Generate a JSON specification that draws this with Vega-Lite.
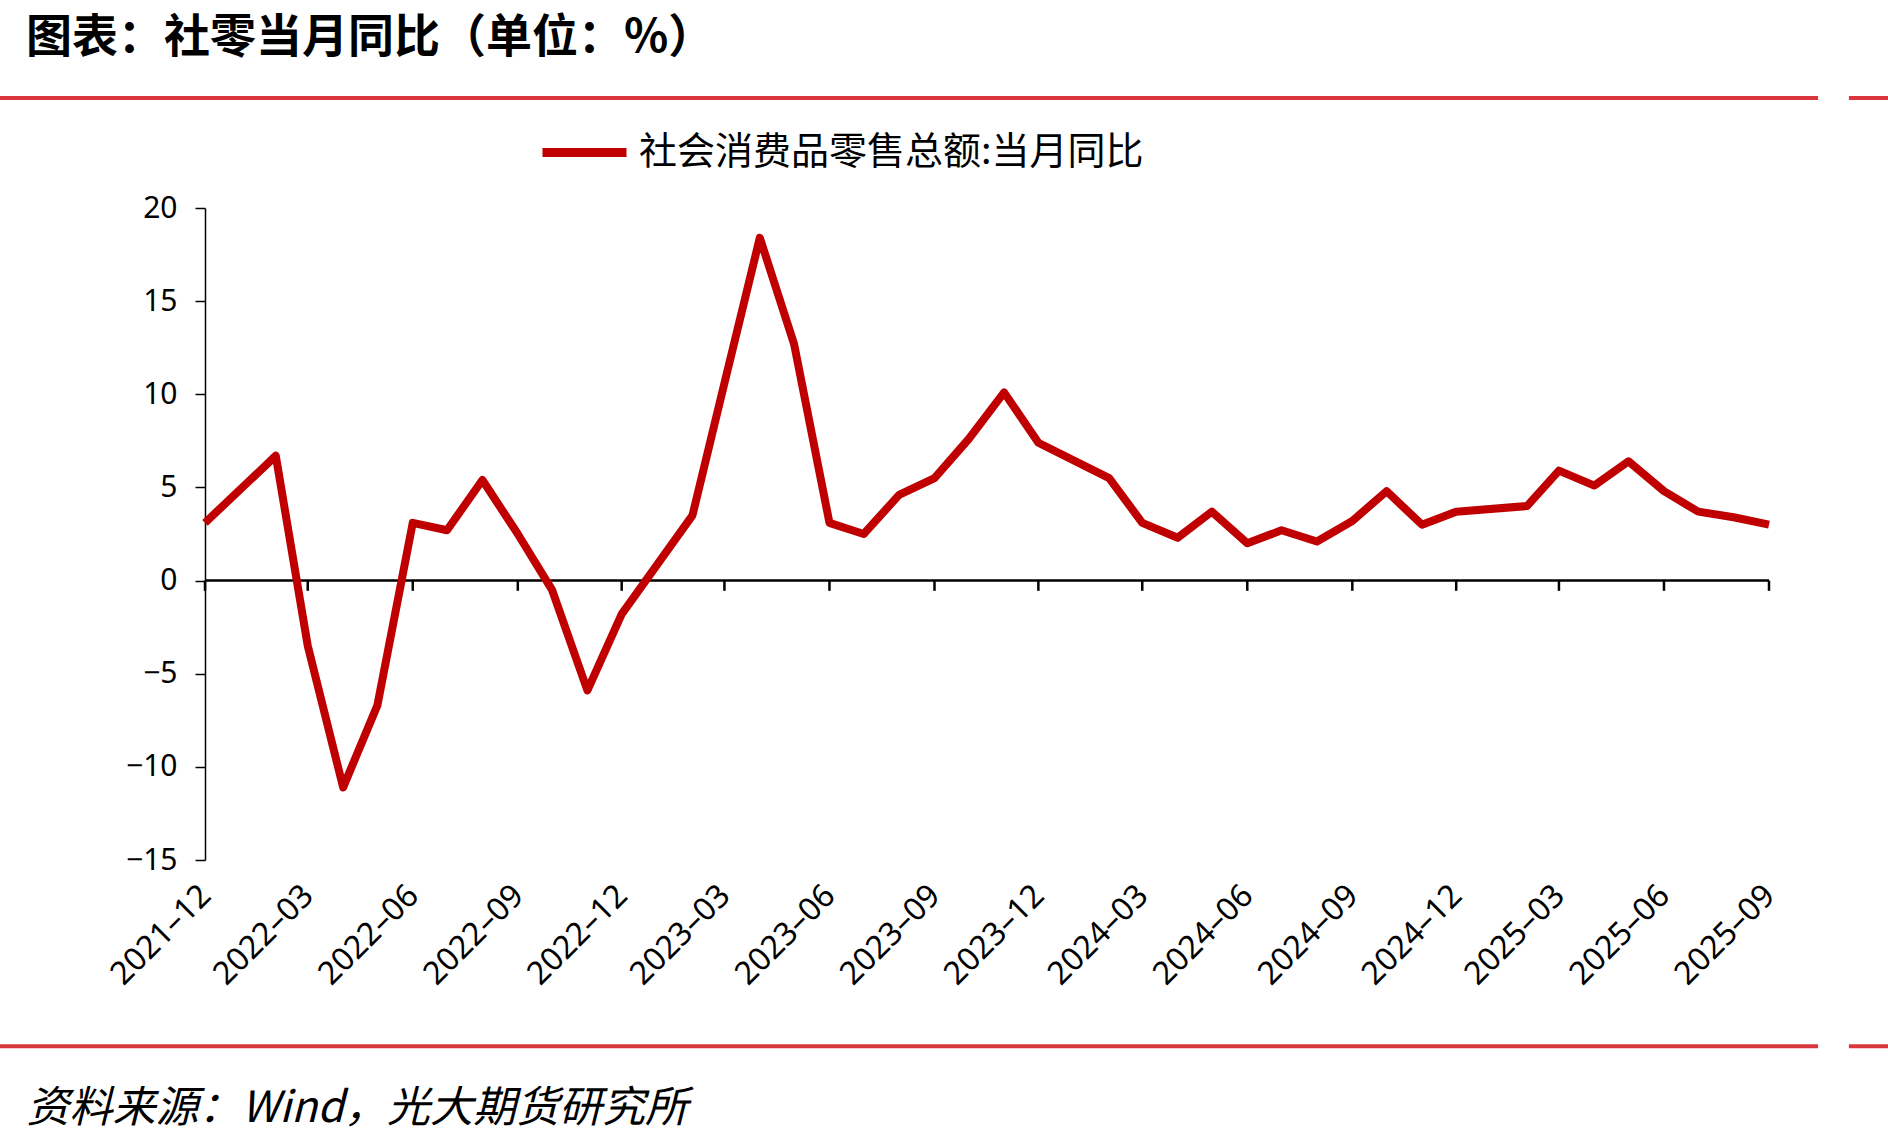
{
  "$schema": "https://vega.github.io/schema/vega-lite/v6.json",
  "autosize": "none",
  "width": 1564,
  "height": 652,
  "padding": {"left": 205, "top": 208, "right": 119, "bottom": 286},
  "background": "white",
  "config": {"view": {"stroke": null}, "font": "Noto Sans CJK SC"},
  "title": {
    "text": "图表：社零当月同比（单位：%）",
    "anchor": "start",
    "frame": "group",
    "dx": -179,
    "fontSize": 46,
    "fontWeight": "bold",
    "font": "Noto Sans CJK SC",
    "color": "#000000",
    "offset": 34
  },
  "datasets": {
    "retail": [
      {"month": "2021-12-01", "yoy": 3.1},
      {"month": "2022-02-01", "yoy": 6.7},
      {"month": "2022-03-01", "yoy": -3.5},
      {"month": "2022-04-01", "yoy": -11.1},
      {"month": "2022-05-01", "yoy": -6.7},
      {"month": "2022-06-01", "yoy": 3.1},
      {"month": "2022-07-01", "yoy": 2.7},
      {"month": "2022-08-01", "yoy": 5.4},
      {"month": "2022-09-01", "yoy": 2.5},
      {"month": "2022-10-01", "yoy": -0.5},
      {"month": "2022-11-01", "yoy": -5.9},
      {"month": "2022-12-01", "yoy": -1.8},
      {"month": "2023-02-01", "yoy": 3.5},
      {"month": "2023-03-01", "yoy": 10.6},
      {"month": "2023-04-01", "yoy": 18.4},
      {"month": "2023-05-01", "yoy": 12.7},
      {"month": "2023-06-01", "yoy": 3.1},
      {"month": "2023-07-01", "yoy": 2.5},
      {"month": "2023-08-01", "yoy": 4.6},
      {"month": "2023-09-01", "yoy": 5.5},
      {"month": "2023-10-01", "yoy": 7.6},
      {"month": "2023-11-01", "yoy": 10.1},
      {"month": "2023-12-01", "yoy": 7.4},
      {"month": "2024-02-01", "yoy": 5.5},
      {"month": "2024-03-01", "yoy": 3.1},
      {"month": "2024-04-01", "yoy": 2.3},
      {"month": "2024-05-01", "yoy": 3.7},
      {"month": "2024-06-01", "yoy": 2.0},
      {"month": "2024-07-01", "yoy": 2.7},
      {"month": "2024-08-01", "yoy": 2.1},
      {"month": "2024-09-01", "yoy": 3.2},
      {"month": "2024-10-01", "yoy": 4.8},
      {"month": "2024-11-01", "yoy": 3.0},
      {"month": "2024-12-01", "yoy": 3.7},
      {"month": "2025-02-01", "yoy": 4.0},
      {"month": "2025-03-01", "yoy": 5.9},
      {"month": "2025-04-01", "yoy": 5.1},
      {"month": "2025-05-01", "yoy": 6.4},
      {"month": "2025-06-01", "yoy": 4.8},
      {"month": "2025-07-01", "yoy": 3.7},
      {"month": "2025-08-01", "yoy": 3.4},
      {"month": "2025-09-01", "yoy": 3.0}
    ],
    "quarters": [
      {"month": "2021-12-01"}, {"month": "2022-03-01"}, {"month": "2022-06-01"}, {"month": "2022-09-01"},
      {"month": "2022-12-01"}, {"month": "2023-03-01"}, {"month": "2023-06-01"}, {"month": "2023-09-01"},
      {"month": "2023-12-01"}, {"month": "2024-03-01"}, {"month": "2024-06-01"}, {"month": "2024-09-01"},
      {"month": "2024-12-01"}, {"month": "2025-03-01"}, {"month": "2025-06-01"}, {"month": "2025-09-01"}
    ],
    "one": [{}]
  },
  "layer": [
    {
      "data": {"name": "one"},
      "mark": {"type": "rule", "color": "#d9363e", "strokeWidth": 4, "clip": false},
      "encoding": {
        "x": {"datum": {"year": 2021, "month": 1, "date": 1}, "type": "temporal"},
        "x2": {"datum": {"year": 2025, "month": 10, "date": 14}},
        "y": {"datum": 25.9, "type": "quantitative"}
      }
    },
    {
      "data": {"name": "one"},
      "mark": {"type": "rule", "color": "#d9363e", "strokeWidth": 4, "clip": false},
      "encoding": {
        "x": {"datum": {"year": 2025, "month": 11, "date": 10}, "type": "temporal"},
        "x2": {"datum": {"year": 2026, "month": 12, "date": 1}},
        "y": {"datum": 25.9, "type": "quantitative"}
      }
    },
    {
      "data": {"name": "one"},
      "mark": {"type": "rule", "color": "#d9363e", "strokeWidth": 4, "clip": false},
      "encoding": {
        "x": {"datum": {"year": 2021, "month": 1, "date": 1}, "type": "temporal"},
        "x2": {"datum": {"year": 2025, "month": 10, "date": 14}},
        "y": {"datum": -25.0, "type": "quantitative"}
      }
    },
    {
      "data": {"name": "one"},
      "mark": {"type": "rule", "color": "#d9363e", "strokeWidth": 4, "clip": false},
      "encoding": {
        "x": {"datum": {"year": 2025, "month": 11, "date": 10}, "type": "temporal"},
        "x2": {"datum": {"year": 2026, "month": 12, "date": 1}},
        "y": {"datum": -25.0, "type": "quantitative"}
      }
    },
    {
      "data": {"name": "one"},
      "mark": {"type": "rule", "color": "#000000", "strokeWidth": 2.5},
      "encoding": {
        "x": {"datum": {"year": 2021, "month": 12, "date": 1}, "type": "temporal"},
        "x2": {"datum": {"year": 2025, "month": 9, "date": 1}},
        "y": {"datum": 0, "type": "quantitative"}
      }
    },
    {
      "data": {"name": "quarters"},
      "mark": {"type": "rule", "color": "#000000", "strokeWidth": 2.5},
      "encoding": {
        "x": {"field": "month", "type": "temporal"},
        "y": {"datum": 0, "type": "quantitative"},
        "y2": {"datum": -0.55}
      }
    },
    {
      "data": {"name": "retail"},
      "mark": {"type": "line", "strokeWidth": 8, "strokeJoin": "round", "strokeCap": "butt"},
      "encoding": {
        "x": {
          "field": "month",
          "type": "temporal",
          "scale": {"domain": [{"year": 2021, "month": 12, "date": 1}, {"year": 2025, "month": 9, "date": 1}], "nice": false},
          "axis": {
            "values": [
              {"year": 2021, "month": 12, "date": 1}, {"year": 2022, "month": 3, "date": 1}, {"year": 2022, "month": 6, "date": 1}, {"year": 2022, "month": 9, "date": 1},
              {"year": 2022, "month": 12, "date": 1}, {"year": 2023, "month": 3, "date": 1}, {"year": 2023, "month": 6, "date": 1}, {"year": 2023, "month": 9, "date": 1},
              {"year": 2023, "month": 12, "date": 1}, {"year": 2024, "month": 3, "date": 1}, {"year": 2024, "month": 6, "date": 1}, {"year": 2024, "month": 9, "date": 1},
              {"year": 2024, "month": 12, "date": 1}, {"year": 2025, "month": 3, "date": 1}, {"year": 2025, "month": 6, "date": 1}, {"year": 2025, "month": 9, "date": 1}
            ],
            "labelExpr": "timeFormat(datum.value, '%Y') + '–' + timeFormat(datum.value, '%m')",
            "domain": false,
            "ticks": false,
            "grid": false,
            "labelAngle": -45,
            "labelAlign": "right",
            "labelBaseline": "middle",
            "labelPadding": 30,
            "labelFontSize": 32,
            "labelColor": "#000000",
            "labelFont": "Noto Sans",
            "labelOverlap": false,
            "labelFlush": false,
            "title": "资料来源：Wind，光大期货研究所",
            "titleX": -179,
            "titleY": 248,
            "titleAlign": "left",
            "titleBaseline": "middle",
            "titleFontSize": 43,
            "titleFontWeight": "normal",
            "titleFontStyle": "italic",
            "titleColor": "#000000",
            "titleFont": "Noto Sans CJK SC"
          }
        },
        "y": {
          "field": "yoy",
          "type": "quantitative",
          "scale": {"domain": [-15, 20], "nice": false, "zero": false},
          "axis": {
            "values": [-15, -10, -5, 0, 5, 10, 15, 20],
            "grid": false,
            "domain": true,
            "domainColor": "#000000",
            "domainWidth": 1.5,
            "ticks": true,
            "tickColor": "#000000",
            "tickWidth": 1.5,
            "tickSize": 10,
            "labelFontSize": 30,
            "labelColor": "#000000",
            "labelFont": "Noto Sans",
            "labelPadding": 18,
            "title": null
          }
        },
        "color": {
          "datum": "社会消费品零售总额:当月同比",
          "type": "nominal",
          "scale": {"range": ["#c00000"]},
          "legend": {
            "orient": "none",
            "legendX": 333,
            "legendY": -102,
            "title": null,
            "symbolType": "stroke",
            "symbolSize": 7056,
            "symbolStrokeWidth": 9,
            "labelFontSize": 38,
            "labelColor": "#000000",
            "labelFont": "Noto Sans CJK SC",
            "labelOffset": 8,
            "labelLimit": 1000
          }
        }
      }
    }
  ]
}
